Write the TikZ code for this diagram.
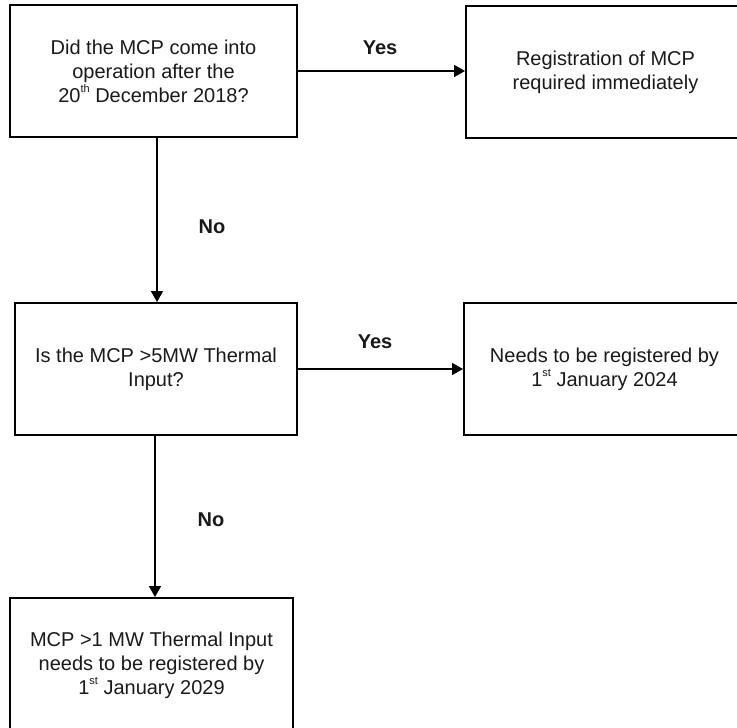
\documentclass[tikz,border=0pt]{standalone}
\usepackage{fontspec}
\setmainfont{Liberation Sans}
\usetikzlibrary{arrows.meta}
\newcommand{\supx}[1]{\raisebox{0.5em}{\fontsize{11}{11}\selectfont #1}}
\begin{document}
\begin{tikzpicture}[x=1pt,y=-1pt,
  box/.style={draw=black, line width=2pt, align=center, inner sep=0pt,
    font=\fontsize{20}{24}\selectfont, text=black!90},
  conn/.style={line width=1.6pt, -{Triangle[length=11pt,width=12pt]}},
  lbl/.style={font=\fontsize{20}{24}\selectfont\bfseries, text=black!90}]
\useasboundingbox (0,0) rectangle (737,728);
\node[box, minimum width=287, minimum height=132] (q1) at (153.5,71)
  {Did the MCP come into\\operation after the\\20\supx{th} December 2018?};
\node[box, minimum width=279, minimum height=132] (r1) at (605.5,72)
  {Registration of MCP\\required immediately};
\node[box, minimum width=282, minimum height=132] (q2) at (156,369)
  {Is the MCP >5MW Thermal\\Input?};
\node[box, minimum width=281, minimum height=132] (r2) at (604.5,369)
  {Needs to be registered by\\1\supx{st} January 2024};
\node[box, minimum width=283, minimum height=134] (r3) at (151.5,665)
  {MCP >1 MW Thermal Input\\needs to be registered by\\1\supx{st} January 2029};
\draw[conn] (q1.east) -- (q1.east -| r1.west);
\draw[conn] ([xshift=3.5pt]q1.south) -- ([xshift=3.5pt]q1.south |- q2.north);
\draw[conn] (q2.east) -- (q2.east -| r2.west);
\draw[conn] ([xshift=-1pt]q2.south) -- ([xshift=-1pt]q2.south |- r3.north);
\node[lbl] (y1) at (380,48) {Yes};
\node[lbl] (n1) at (212,227) {No};
\node[lbl] (y2) at (375,342) {Yes};
\node[lbl] (n2) at (211,520) {No};
\end{tikzpicture}
\end{document}
